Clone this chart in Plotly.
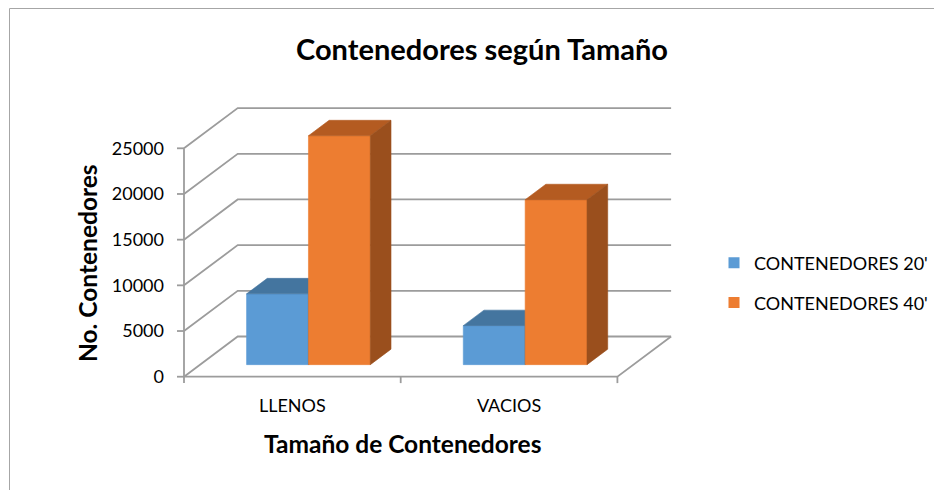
import plotly.graph_objects as go

# ---------------- data ----------------
categories = ["LLENOS", "VACIOS"]
series_names = ["CONTENEDORES 20'", "CONTENEDORES 40'"]
cont_20 = [7750, 4270]
cont_40 = [25050, 18050]
y_ticks = [0, 5000, 10000, 15000, 20000, 25000]
y_tick_labels = ["0", "5000", "10000", "15000", "20000", "25000"]

title_text = "Contenedores según Tamaño"
x_title = "Tamaño de Contenedores"
y_title = "No. Contenedores"

# ---------------- styling / geometry ----------------
FONT = "Lato, Carlito, Calibri, sans-serif"
FIG_W, FIG_H = 934, 490
L, R, T, B = 168, 674, 105, 385          # plot area in pixels
X0_PX, PX_X = 184.0, 216.7               # x=0 position and px per category
V0_PX, PX_V = 376.7, 45.68 / 5000        # value 0 position and px per value unit

x_min = -(X0_PX - L) / PX_X
x_max = x_min + (R - L) / PX_X
v_min = -(B - V0_PX) / PX_V
v_max = v_min + (B - T) / PX_V

DX = 53.7 / PX_X       # oblique depth offset (category units)
DV = 40.2 / PX_V       # oblique depth offset (value units)
D0, D1 = 0.30, 0.685   # bar depth span
BW = 0.2855
GAP = (1 - 2 * BW) / 2
n_cat = len(categories)

front_cols = ["#5B9BD5", "#ED7D31"]
top_cols = ["#44759F", "#B45B21"]
side_cols = ["#3B6790", "#9A4F1D"]
GRID = "#9C9C9C"


def P(x, v, d):
    return x + d * DX, v + d * DV


def px2paper_x(px):
    return (px - L) / (R - L)


def px2paper_y(py):
    return (B - py) / (B - T)


fig = go.Figure()

# ---------------- walls / grid ----------------
gx, gy = [], []
for v in y_ticks:
    a = P(0, v, 0)
    b = P(0, v, 1)
    c = P(n_cat, v, 1)
    gx += [a[0], b[0], c[0], None]
    gy += [a[1], b[1], c[1], None]
# floor front edge and right edge
a, b, c = P(0, 0, 0), P(n_cat, 0, 0), P(n_cat, 0, 1)
gx += [a[0], b[0], c[0], None]
gy += [a[1], b[1], c[1], None]
# front value axis
a, b = P(0, 0, 0), P(0, y_ticks[-1], 0)
gx += [a[0], b[0], None]
gy += [a[1], b[1], None]
# value axis tick marks
for v in y_ticks:
    gx += [-7 / PX_X, 0, None]
    gy += [v, v, None]
# category tick marks
for i in range(n_cat + 1):
    gx += [i, i, None]
    gy += [0, -700, None]

fig.add_trace(go.Scatter(x=gx, y=gy, mode="lines",
                         line=dict(color=GRID, width=1.8),
                         hoverinfo="skip", showlegend=False))

# ---------------- 3D bars ----------------
def poly(pts, color):
    xs = [p[0] for p in pts] + [pts[0][0]]
    ys = [p[1] for p in pts] + [pts[0][1]]
    fig.add_trace(go.Scatter(x=xs, y=ys, mode="lines", fill="toself",
                             fillcolor=color, line=dict(color=color, width=0.6),
                             hoverinfo="skip", showlegend=False))


for s, vals in enumerate([cont_20, cont_40]):
    for i, h in enumerate(vals):
        x0 = i + GAP + s * BW
        x1 = x0 + BW
        # front
        poly([P(x0, 0, D0), P(x1, 0, D0), P(x1, h, D0), P(x0, h, D0)], front_cols[s])
        # top
        poly([P(x0, h, D0), P(x1, h, D0), P(x1, h, D1), P(x0, h, D1)], top_cols[s])
        # side
        poly([P(x1, 0, D0), P(x1, 0, D1), P(x1, h, D1), P(x1, h, D0)], side_cols[s])

# legend entries
for s, name in enumerate(series_names):
    fig.add_trace(go.Scatter(x=[None], y=[None], mode="markers", name=name,
                             legendgroup=name,
                             marker=dict(symbol="square", size=11, color=front_cols[s])))

# ---------------- layout ----------------
fig.update_layout(
    width=FIG_W, height=FIG_H,
    margin=dict(l=L, r=FIG_W - R, t=T, b=FIG_H - B, autoexpand=False),
    paper_bgcolor="white", plot_bgcolor="white",
    font=dict(family=FONT, size=18, color="black"),
    title=dict(text="<b>" + title_text + "</b>", font=dict(family=FONT, size=29, color="black"),
               x=482 / FIG_W, xanchor="center", xref="container",
               y=1 - 50 / FIG_H, yanchor="middle", yref="container"),
    xaxis=dict(range=[x_min, x_max], tickvals=[i + 0.5 for i in range(n_cat)],
               ticktext=categories, ticks="", showgrid=False, zeroline=False,
               showline=False, tickfont=dict(size=18), automargin=False,
               ticklabelstandoff=8, fixedrange=True),
    yaxis=dict(range=[v_min, v_max], tickvals=y_ticks, ticktext=y_tick_labels,
               ticks="", showgrid=False, zeroline=False, showline=False,
               tickfont=dict(size=18), automargin=False, fixedrange=True,
               ticklabelstandoff=3),
    legend=dict(xref="container", yref="container", x=714 / FIG_W, xanchor="left",
                y=1 - 244.5 / FIG_H, yanchor="top", tracegroupgap=13.5,
                font=dict(size=18), bgcolor="rgba(0,0,0,0)"),
    showlegend=True,
    annotations=[
        dict(text="<b>" + y_title + "</b>", textangle=-90, xref="paper", yref="paper",
             x=px2paper_x(87), y=px2paper_y(263), xanchor="center", yanchor="middle",
             showarrow=False, font=dict(family=FONT, size=24.5, color="black")),
        dict(text="<b>" + x_title + "</b>", xref="paper", yref="paper",
             x=px2paper_x(402), y=px2paper_y(443), xanchor="center", yanchor="middle",
             showarrow=False, font=dict(family=FONT, size=24.5, color="black")),
    ],
    shapes=[
        dict(type="line", xref="paper", yref="paper", x0=px2paper_x(9.5), x1=px2paper_x(9.5),
             y0=px2paper_y(8.5), y1=px2paper_y(500), line=dict(color="#A6A6A6", width=1)),
        dict(type="line", xref="paper", yref="paper", x0=px2paper_x(9.5), x1=px2paper_x(940),
             y0=px2paper_y(8.5), y1=px2paper_y(8.5), line=dict(color="#A6A6A6", width=1)),
    ],
)

fig.write_html("out.html", config={"displayModeBar": False},
               post_script="document.body.style.margin='0';")
